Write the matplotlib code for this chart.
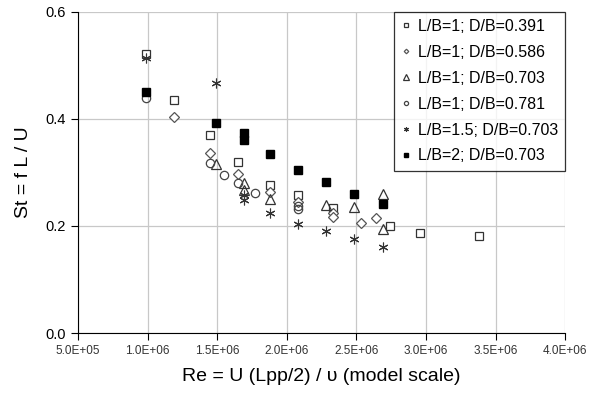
import matplotlib
matplotlib.use("Agg")
import matplotlib.pyplot as plt

plt.rcParams['font.family'] = ['Liberation Sans', 'DejaVu Sans']

# L/B=1; D/B=0.391 (open squares)
re_sq = [0.99e6, 1.19e6, 1.45e6, 1.65e6, 1.88e6, 2.08e6, 2.33e6, 2.74e6, 2.96e6, 3.38e6]
st_sq = [0.522, 0.436, 0.370, 0.320, 0.276, 0.257, 0.234, 0.200, 0.187, 0.182]

# L/B=1; D/B=0.586 (diamonds)
re_dm = [1.19e6, 1.45e6, 1.65e6, 1.88e6, 2.08e6, 2.33e6, 2.33e6, 2.53e6, 2.64e6]
st_dm = [0.404, 0.336, 0.298, 0.264, 0.245, 0.224, 0.217, 0.205, 0.214]

# L/B=1; D/B=0.703 (triangles)
re_tr = [1.49e6, 1.69e6, 1.69e6, 1.88e6, 2.28e6, 2.48e6, 2.69e6, 2.69e6]
st_tr = [0.316, 0.280, 0.268, 0.250, 0.239, 0.235, 0.259, 0.194]

# L/B=1; D/B=0.781 (circles)
re_ci = [0.99e6, 1.45e6, 1.55e6, 1.65e6, 1.77e6, 2.08e6, 2.08e6]
st_ci = [0.440, 0.317, 0.295, 0.280, 0.262, 0.238, 0.231]

# L/B=1.5; D/B=0.703 (asterisks)
re_as = [0.99e6, 1.49e6, 1.69e6, 1.69e6, 1.88e6, 2.08e6, 2.28e6, 2.48e6, 2.69e6]
st_as = [0.513, 0.468, 0.258, 0.249, 0.225, 0.203, 0.191, 0.175, 0.161]

# L/B=2; D/B=0.703 (filled squares)
re_fs = [0.99e6, 1.49e6, 1.69e6, 1.69e6, 1.88e6, 2.08e6, 2.28e6, 2.48e6, 2.69e6]
st_fs = [0.451, 0.393, 0.374, 0.360, 0.335, 0.305, 0.283, 0.260, 0.242]

xticks = [5e5, 1e6, 1.5e6, 2e6, 2.5e6, 3e6, 3.5e6, 4e6]
xtick_labels = ['5.0E+05', '1.0E+06', '1.5E+06', '2.0E+06', '2.5E+06', '3.0E+06', '3.5E+06', '4.0E+06']
yticks = [0.0, 0.2, 0.4, 0.6]

fig = plt.figure(figsize=(5.9, 3.96), dpi=100)
ax = fig.add_axes([0.132, 0.159, 0.826, 0.811])

ec = '#333333'
ax.plot(re_sq, st_sq, 's', ms=6, mfc='white', mec=ec, mew=0.9, label='L/B=1; D/B=0.391')
ax.plot(re_dm, st_dm, 'D', ms=4.6, mfc='white', mec='#555555', mew=0.9, label='L/B=1; D/B=0.586')
ax.plot(re_tr, st_tr, '^', ms=7.5, mfc='none', mec=ec, mew=0.9, label='L/B=1; D/B=0.703')
ax.plot(re_ci, st_ci, 'o', ms=6, mfc='none', mec='#444444', mew=0.9, label='L/B=1; D/B=0.781')
ax.plot(re_as, st_as, marker=(6, 2, 0), ls='none', ms=7, mec=ec, mew=0.8, label='L/B=1.5; D/B=0.703')
ax.plot(re_fs, st_fs, 's', ms=5.5, mfc='black', mec='black', label='L/B=2; D/B=0.703')

ax.set_xlim(5e5, 4e6)
ax.set_ylim(0, 0.6)
ax.set_xticks(xticks)
ax.set_xticklabels(xtick_labels, fontsize=8.5, color='#333333')
ax.set_yticks(yticks)
ax.set_yticklabels(['0.0', '0.2', '0.4', '0.6'], fontsize=10.5)
ax.tick_params(direction='out', length=5, width=0.8)
ax.grid(True, color='#c8c8c8', lw=0.9)
ax.set_axisbelow(True)
for s in ['top', 'right']:
    ax.spines[s].set_visible(False)

ax.set_xlabel('Re = U (Lpp/2) / υ (model scale)', fontsize=14, labelpad=8)
ax.set_ylabel('St = f L / U', fontsize=14, labelpad=10)

leg = ax.legend(loc='upper right', bbox_to_anchor=(1.0, 1.0), fontsize=11.5,
                markerscale=0.5, frameon=True, fancybox=False, edgecolor='black',
                borderaxespad=0, handlelength=0.6, handletextpad=0.45,
                labelspacing=0.68, borderpad=0.45)
leg.get_frame().set_linewidth(0.9)

fig.savefig('out.png', dpi=100)
